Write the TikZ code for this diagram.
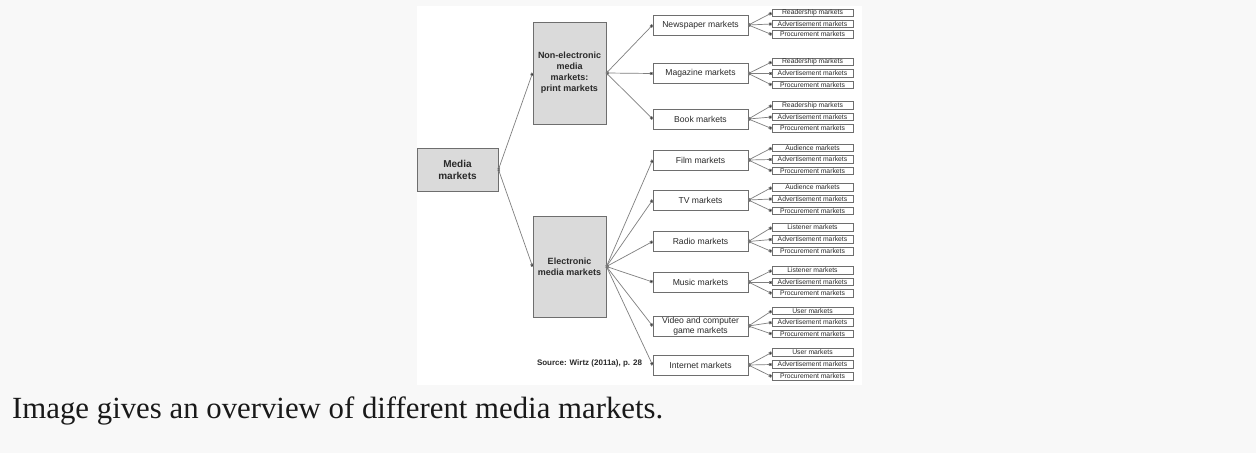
\documentclass[tikz,border=0pt]{standalone}
\usepackage{fontspec}
\setmainfont{Liberation Serif}
\setsansfont{Liberation Sans}
\usetikzlibrary{arrows.meta}
\definecolor{pagebg}{HTML}{F8F8F8}
\definecolor{boxfill}{HTML}{DADADA}
\definecolor{boxline}{HTML}{6E6E6E}
\definecolor{linecol}{HTML}{7F7F7F}
\definecolor{txt}{HTML}{2A2A2A}
\begin{document}
\begin{tikzpicture}[x=1pt,y=-1pt,
  greybox/.style={draw=boxline, fill=boxfill, line width=0.9pt, text=txt,
    font=\sffamily\bfseries\fontsize{9}{11}\selectfont, align=center, inner sep=0pt},
  midbox/.style={draw=boxline, fill=white, line width=0.8pt, text=txt,
    font=\sffamily\fontsize{8.6}{10}\selectfont, align=center, inner sep=0pt,
    minimum width=95pt, minimum height=20pt},
  leafbox/.style={draw=boxline, fill=white, line width=0.8pt, text=txt,
    font=\sffamily\fontsize{6.8}{7}\selectfont, inner sep=0pt,
    minimum width=81pt, minimum height=7.5pt},
  conn/.style={draw=linecol, line width=0.7pt,
    {Square[length=2.2pt,width=2.2pt,fill=txt]}-{Square[length=2.8pt,width=2.8pt,fill=txt]}}
]
\fill[pagebg] (0,0) rectangle (1256,453);
\fill[white] (417,6) rectangle (862,385);
\useasboundingbox (0,0) rectangle (1256,453);

\node[greybox, minimum width=81pt, minimum height=43pt, font=\sffamily\bfseries\fontsize{10}{12}\selectfont] (media) at (457.5,169.5) {Media\\markets};
\node[greybox, minimum width=73pt, minimum height=102pt] (nonel) at (569.5,73) {Non-electronic\\media\\markets:\\print markets};
\node[greybox, minimum width=73pt, minimum height=101pt] (elec) at (569.5,266.5) {Electronic\\media markets};

\foreach \n/\y/\lab/\first/\ya/\yb/\yc in {
  news/25/{Newspaper markets}/Readership/13/24/34.5,
  mag/73.5/{Magazine markets}/Readership/62/73.5/85,
  book/119/{Book markets}/Readership/105.5/117/128.5,
  film/160/{Film markets}/Audience/148/159.5/171,
  tv/200/{TV markets}/Audience/187.5/199/211,
  radio/241.5/{Radio markets}/Listener/227.5/239.5/251.5,
  music/282/{Music markets}/Listener/270.5/282/293.5,
  video/326/{Video and computer\\game markets}/User/311/322.5/334,
  inet/365/{Internet markets}/User/352.5/364.5/376.5}
{
  \node[midbox] (\n) at (700.5,\y) {\lab};
  \node[leafbox] (\n1) at (812.5,\ya) {\first\ markets};
  \node[leafbox] (\n2) at (812.5,\yb) {Advertisement markets};
  \node[leafbox] (\n3) at (812.5,\yc) {Procurement markets};
  \foreach \k in {1,2,3} \draw[conn] (\n.east) -- (\n\k.west);
}

\draw[conn] (media.east) -- (nonel.west);
\draw[conn] (media.east) -- (elec.west);
\foreach \m in {news,mag,book} \draw[conn] (nonel.east) -- (\m.west);
\foreach \m in {film,tv,radio,music,video,inet} \draw[conn] (elec.east) -- (\m.west);

\node[font=\sffamily\bfseries\fontsize{8}{9}\selectfont, text=txt, inner sep=0pt] (src) at (589.5,363) {Source: Wirtz (2011a), p. 28};

\node[anchor=base west, inner sep=0pt, font=\fontsize{30.8}{36}\selectfont, text=black!90] (cap) at (12,418) {Image gives an overview of different media markets.};
\end{tikzpicture}
\end{document}
